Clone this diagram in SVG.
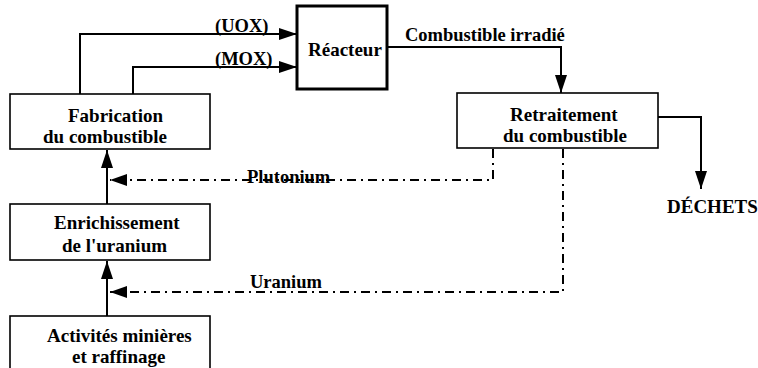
<svg xmlns="http://www.w3.org/2000/svg" width="758" height="368" viewBox="0 0 758 368">
<defs>
<style>
.box{fill:#fff;stroke:#000;stroke-width:1.6}
.thick{fill:#fff;stroke:#000;stroke-width:3}
.t{font-family:"Liberation Serif","Times New Roman",serif;font-weight:bold;font-size:19px;fill:#000}
.lbl{font-family:"Liberation Serif","Times New Roman",serif;font-weight:bold;font-size:18.5px;fill:#000}
.ln{fill:none;stroke:#000;stroke-width:2}
.dd{fill:none;stroke:#000;stroke-width:2;stroke-dasharray:9 5 2 5}
</style>
<marker id="ah" viewBox="0 0 18 12" refX="18" refY="6" markerWidth="18" markerHeight="12" markerUnits="userSpaceOnUse" orient="auto">
<path d="M0,0 L18,6 L0,12 Z" fill="#000"/>
</marker>
<marker id="ahs" viewBox="0 0 17 12" refX="17" refY="6" markerWidth="17" markerHeight="12" markerUnits="userSpaceOnUse" orient="auto">
<path d="M0,0 L17,6 L0,12 Z" fill="#000"/>
</marker>
</defs>
<rect width="758" height="368" fill="#fff"/>
<g id="connectors">
<path class="ln" d="M80,95 V34 H297" marker-end="url(#ah)"/>
<path class="ln" d="M133,95 V67 H297" marker-end="url(#ah)"/>
<path class="ln" d="M387,47 H561 V93" marker-end="url(#ah)"/>
<path class="ln" d="M658,117 H701 V189" marker-end="url(#ah)"/>
<path class="ln" d="M107,204 V150" marker-end="url(#ah)"/>
<path class="ln" d="M107,316 V261" marker-end="url(#ah)"/>
<path class="dd" d="M493,149 V180 H110" marker-end="url(#ahs)"/>
<path class="dd" d="M563,149 V292 H110" marker-end="url(#ahs)"/>
<text class="lbl" x="215" y="32">(UOX)</text>
<text class="lbl" x="215" y="65">(MOX)</text>
<text class="lbl" x="405" y="41">Combustible irradié</text>
<text class="lbl" x="247" y="183">Plutonium</text>
<text class="lbl" x="250" y="288">Uranium</text>
</g>
<g id="reacteur">
<rect class="thick" x="297" y="6" width="90" height="83"/>
<text class="t" x="308" y="56">Réacteur</text>
</g>
<g id="fabrication">
<rect class="box" x="10" y="94" width="200" height="55"/>
<text class="t" x="68" y="122">Fabrication</text>
<text class="t" x="43" y="143">du combustible</text>
</g>
<g id="enrichissement">
<rect class="box" x="10" y="204" width="200" height="56"/>
<text class="t" x="54" y="229">Enrichissement</text>
<text class="t" x="62" y="252">de l'uranium</text>
</g>
<g id="activites">
<rect class="box" x="10" y="316" width="200" height="60"/>
<text class="t" x="47" y="342">Activités minières</text>
<text class="t" x="72" y="363">et raffinage</text>
</g>
<g id="retraitement">
<rect class="box" x="457" y="93" width="201" height="55"/>
<text class="t" x="510" y="121">Retraitement</text>
<text class="t" x="503" y="142">du combustible</text>
</g>
<g id="dechets">
<text class="t" x="667" y="213">DÉCHETS</text>
</g>
</svg>
